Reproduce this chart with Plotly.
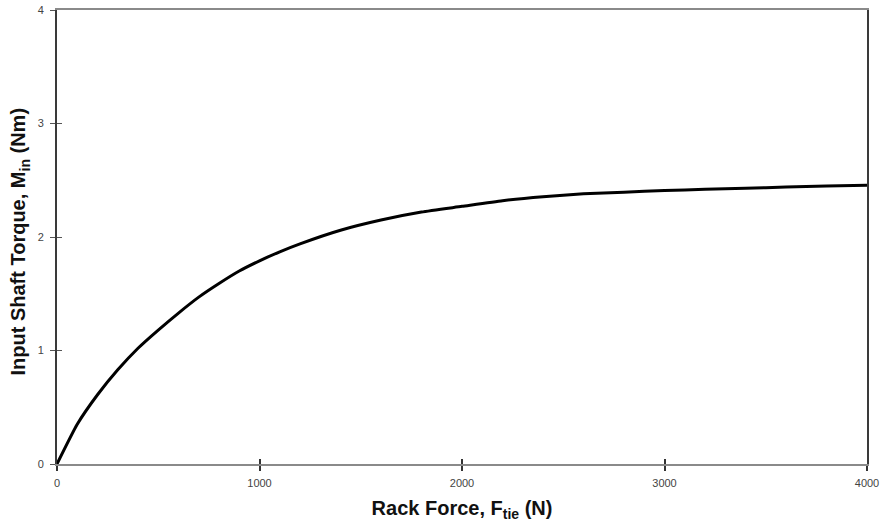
import plotly.graph_objects as go

# Rack force (N) and the corresponding input shaft torque (Nm)
rack_force = [0, 100, 200, 300, 400, 500, 600, 700, 800, 900, 1000, 1100,
              1200, 1400, 1600, 1800, 2000, 2200, 2400, 2600, 2800,
              3000, 3200, 3400, 3600, 3800, 4000]
shaft_torque = [0.0, 0.35, 0.61, 0.83, 1.02, 1.18, 1.33, 1.47, 1.59, 1.70, 1.79, 1.87,
                1.94, 2.06, 2.15, 2.22, 2.27, 2.32, 2.355, 2.38, 2.395,
                2.41, 2.42, 2.43, 2.44, 2.45, 2.455]

x_ticks = [0, 1000, 2000, 3000, 4000]
y_ticks = [0, 1, 2, 3, 4]

x_title = "<b>Rack Force, F<sub>tie</sub> (N)</b>"
y_title = "<b>Input Shaft Torque, M<sub>in</sub> (Nm)</b>"

tick_font = dict(family="Liberation Sans, Arial, sans-serif", size=11, color="#444444")
title_font = dict(family="Liberation Sans, Arial, sans-serif", size=20, color="#111111")

fig = go.Figure()
fig.add_trace(go.Scatter(
    x=rack_force, y=shaft_torque, mode="lines",
    line=dict(color="black", width=3, shape="spline", smoothing=0.5),
    showlegend=False, hoverinfo="skip",
))

fig.update_layout(
    width=881, height=522,
    margin=dict(l=57, r=14, t=10, b=58),
    paper_bgcolor="white", plot_bgcolor="white",
    xaxis=dict(
        range=[0, 4000], tickvals=x_ticks, ticktext=[str(v) for v in x_ticks],
        showgrid=False, zeroline=False, automargin=False,
        showline=True, linecolor="#8a8a8a", linewidth=1.5, mirror=True,
        ticks="outside", ticklen=5, tickwidth=1.5, tickcolor="#333333",
        tickfont=tick_font, ticklabelstandoff=3,
        title=dict(text=x_title, font=title_font, standoff=14),
    ),
    yaxis=dict(
        range=[0, 4], tickvals=y_ticks, ticktext=[str(v) for v in y_ticks],
        showgrid=False, zeroline=False, automargin=False,
        showline=True, linecolor="#3a3a3a", linewidth=2, mirror=True,
        ticks="outside", ticklen=5, tickwidth=1.2, tickcolor="#555555",
        tickfont=tick_font, ticklabelstandoff=4,
    ),
    # companion axes supply the inner half of each crossing tick mark
    xaxis2=dict(
        overlaying="x", matches="x", side="bottom", anchor="y", automargin=False,
        tickvals=x_ticks, showticklabels=False, showgrid=False, zeroline=False,
        ticks="inside", ticklen=5, tickwidth=1.5, tickcolor="#333333", showline=False,
    ),
    yaxis2=dict(
        overlaying="y", matches="y", side="left", anchor="x", automargin=False,
        tickvals=y_ticks, showticklabels=False, showgrid=False, zeroline=False,
        ticks="inside", ticklen=5, tickwidth=1.2, tickcolor="#555555", showline=False,
    ),
)

# vertical axis title, placed left of the tick labels
fig.add_annotation(
    text=y_title, textangle=-90, font=title_font,
    xref="paper", yref="paper", x=0, y=0.49,
    xanchor="center", yanchor="middle", xshift=-37, showarrow=False,
)

# invisible trace so the companion axes are drawn
fig.add_trace(go.Scatter(x=[None], y=[None], xaxis="x2", yaxis="y2",
                         showlegend=False, hoverinfo="skip"))

fig.write_html("out.html")
